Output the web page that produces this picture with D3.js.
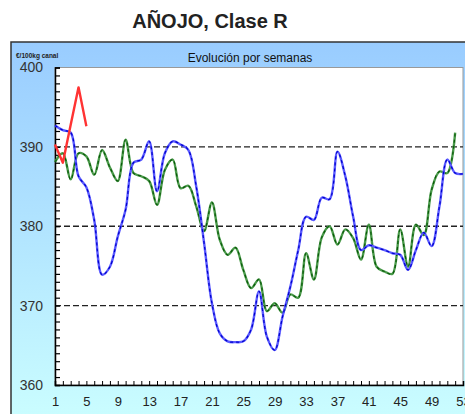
<!DOCTYPE html>
<html>
<head>
<meta charset="utf-8">
<script src="https://cdn.jsdelivr.net/npm/d3@7"></script>
<style>
  body { margin: 0; background: #fff; }
  svg { display: block; font-family: "Liberation Sans", Arial, sans-serif; }
</style>
</head>
<body>
<svg id="chart" width="465" height="414"></svg>
<script>
// data
const weekTicks = [1, 5, 9, 13, 17, 21, 25, 29, 33, 37, 41, 45, 49, 53];
const yLabels = [360, 370, 380, 390, 400];
const gridValues = [370, 380, 390];

const redSeries = [390.3, 388.0, 392.8, 397.5, 392.6];

const blueSeries = [
  392.7, 392.1, 391.8, 386.3, 384.9, 380.8, 373.9, 374.9, 378.7, 382.1,
  388.0, 388.4, 390.7, 384.4, 389.2, 390.7, 390.3, 389.6, 385.0, 377.9,
  370.3, 366.5, 365.5, 365.4, 365.5, 367.0, 371.8, 366.1, 364.4, 368.6,
  372.4, 377.0, 381.2, 380.8, 383.6, 383.4, 389.4, 386.3, 381.2, 377.0,
  377.6, 377.3, 377.0, 376.6, 376.4, 374.5, 377.0, 379.2, 377.5, 382.5,
  388.4, 386.7, 386.6
];

const greenSeries = [
  388.1, 389.2, 385.9, 389.2, 388.8, 386.5, 389.6, 387.4, 385.7, 390.9,
  386.7, 386.3, 385.7, 382.7, 387.1, 388.4, 384.8, 385.1, 382.5, 379.4,
  383.0, 378.3, 376.4, 377.3, 374.5, 372.2, 373.3, 369.3, 370.3, 369.1,
  371.4, 371.0, 376.6, 373.3, 378.6, 380.0, 377.7, 379.6, 378.5, 375.8,
  380.2, 374.9, 374.3, 374.0, 379.6, 374.9, 380.2, 378.9, 384.6, 386.9,
  386.7, 391.8
];

const svg = d3.select('#chart');
const plot = { left: 55, right: 463, top: 67.5, bottom: 385 };

const defs = svg.append('defs');
const grad = defs.append('linearGradient')
  .attr('id', 'bg').attr('x1', 0).attr('y1', 0).attr('x2', 0).attr('y2', 1);
grad.append('stop').attr('offset', '0%').attr('stop-color', '#99ccff');
grad.append('stop').attr('offset', '100%').attr('stop-color', '#ccffff');

// title
svg.append('text')
  .attr('x', 210).attr('y', 28)
  .attr('text-anchor', 'middle')
  .attr('font-size', 20).attr('font-weight', 'bold')
  .attr('fill', '#222')
  .text('AÑOJO, Clase R');

// outer frame
svg.append('rect')
  .attr('x', 11).attr('y', 42).attr('width', 470).attr('height', 390)
  .attr('fill', 'url(#bg)')
  .attr('stroke', '#333').attr('stroke-width', 1.5);

svg.append('text')
  .attr('x', 250).attr('y', 62)
  .attr('text-anchor', 'middle')
  .attr('font-size', 12).attr('fill', '#111')
  .text('Evolución por semanas');

svg.append('text')
  .attr('x', 16).attr('y', 58)
  .attr('font-size', 6.5).attr('font-weight', 'bold').attr('fill', '#222')
  .text('€/100kg canal');

// plot area
svg.append('rect')
  .attr('x', plot.left).attr('y', plot.top)
  .attr('width', plot.right - plot.left).attr('height', plot.bottom - plot.top)
  .attr('fill', '#fff').attr('stroke', '#999').attr('stroke-width', 1);

const x = d3.scaleLinear().domain([1, 53]).range([plot.left, plot.right]);
const y = d3.scaleLinear().domain([360, 400]).range([plot.bottom, plot.top]);

// gridlines
svg.append('g')
  .selectAll('line')
  .data(gridValues)
  .enter().append('line')
  .attr('x1', plot.left).attr('x2', plot.right)
  .attr('y1', d => y(d)).attr('y2', d => y(d))
  .attr('stroke', '#222').attr('stroke-width', 1.3)
  .attr('stroke-dasharray', '6,3');

// y axis: minor ticks inward + labels
const yAxisG = svg.append('g')
  .attr('transform', `translate(${plot.left},0)`)
  .call(d3.axisLeft(y).tickValues(d3.range(360, 401)).tickSize(-5).tickFormat(''));
yAxisG.select('.domain').attr('stroke', '#000').attr('stroke-width', 1.5);
yAxisG.selectAll('.tick line').attr('stroke', '#000').attr('stroke-width', 1.2);

const yLabelG = svg.append('g')
  .attr('transform', `translate(${plot.left},0)`)
  .call(d3.axisLeft(y).tickValues(yLabels).tickSize(0).tickPadding(12));
yLabelG.select('.domain').remove();
yLabelG.selectAll('text')
  .attr('font-size', 14).attr('fill', '#333')
  .attr('font-family', '"Liberation Sans", Arial, sans-serif');

// x axis: weekly ticks inward + labels
const xAxisG = svg.append('g')
  .attr('transform', `translate(0,${plot.bottom})`)
  .call(d3.axisBottom(x).tickValues(d3.range(1, 54)).tickSize(-4).tickFormat(''));
xAxisG.select('.domain').attr('stroke', '#000').attr('stroke-width', 1.5);
xAxisG.selectAll('.tick line').attr('stroke', '#000').attr('stroke-width', 1);

const xLabelG = svg.append('g')
  .attr('transform', `translate(0,${plot.bottom})`)
  .call(d3.axisBottom(x).tickValues(weekTicks).tickSize(0).tickPadding(12));
xLabelG.select('.domain').remove();
xLabelG.selectAll('text')
  .attr('font-size', 13).attr('fill', '#222')
  .attr('font-family', '"Liberation Sans", Arial, sans-serif');

// series
const smooth = d3.line()
  .x((d, i) => x(i + 1))
  .y(d => y(d))
  .curve(d3.curveCatmullRom.alpha(0.5));
const straight = d3.line()
  .x((d, i) => x(i + 1))
  .y(d => y(d));

function drawSeries(data, gen, base, dash) {
  svg.append('path').datum(data)
    .attr('d', gen).attr('fill', 'none')
    .attr('stroke', base).attr('stroke-width', 2.4)
    .attr('stroke-linejoin', 'round');
  if (dash) {
    svg.append('path').datum(data)
      .attr('d', gen).attr('fill', 'none')
      .attr('stroke', dash).attr('stroke-width', 1.2)
      .attr('stroke-dasharray', '3,3');
  }
}

drawSeries(greenSeries, smooth, '#4a9a4a', '#0a5a0a');
drawSeries(blueSeries, smooth, '#5a5aff', '#0000cc');
drawSeries(redSeries, straight, '#ff3333', null);
</script>
</body>
</html>
